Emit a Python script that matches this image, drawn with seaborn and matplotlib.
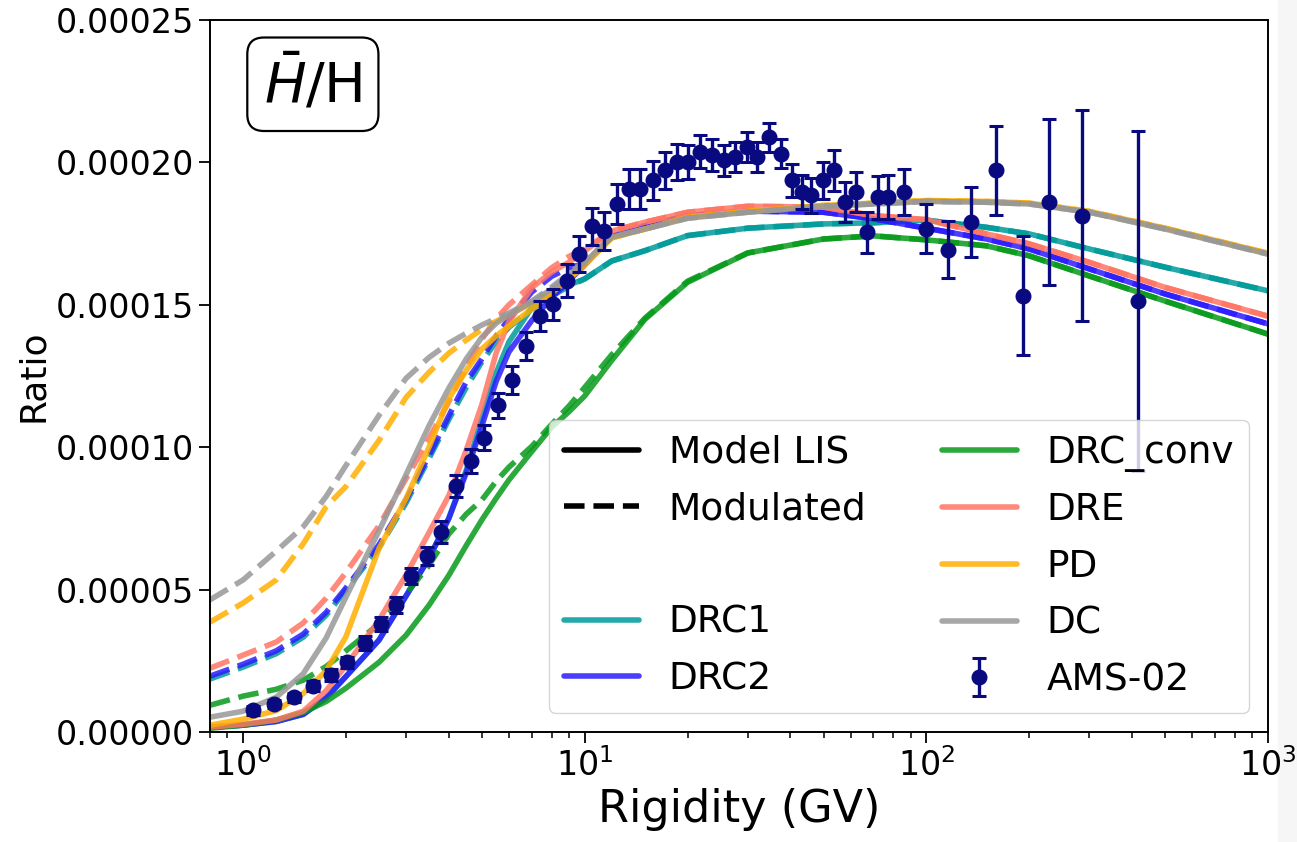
import matplotlib
matplotlib.use("Agg")
import matplotlib.pyplot as plt
import numpy as np
import seaborn as sns
from matplotlib.lines import Line2D
from matplotlib.patches import Rectangle
from matplotlib.ticker import FormatStrFormatter

# all ratio values below are in units of 1e-5
SCALE = 1e-5

# rigidity grid (GV) the model curves are read at
rigidity = [0.8, 1, 1.25, 1.5, 1.75, 2, 2.5, 3, 3.5, 4, 4.5, 5, 5.5, 6, 7, 8, 9, 10,
            12, 15, 20, 30, 50, 70, 100, 150, 200, 300, 500, 1000]

# model curves: LIS (solid) and modulated (dashed)
drc1_lis = [0.17, 0.24, 0.37, 0.62, 1.20, 1.95, 3.23, 4.78, 6.10, 7.50, 9.20, 11.00, 12.60, 13.70, 14.90, 15.40, 15.70, 15.91,
            16.54, 16.90, 17.43, 17.69, 17.84, 17.88, 17.97, 17.72, 17.49, 16.96, 16.32, 15.49]
drc1_mod = [1.86, 2.28, 2.75, 3.33, 4.10, 4.99, 6.47, 8.05, 9.60, 10.97, 12.10, 13.00, 13.70, 14.21, 14.85, 15.31, 15.65, 15.91,
            16.54, 16.90, 17.43, 17.69, 17.84, 17.88, 17.97, 17.72, 17.49, 16.96, 16.32, 15.49]

drc2_lis = [0.17, 0.24, 0.37, 0.62, 1.20, 1.95, 3.23, 4.78, 6.10, 7.50, 9.10, 10.75, 12.30, 13.35, 14.45, 15.25, 15.85, 16.40,
            17.40, 17.78, 18.13, 18.29, 18.25, 18.02, 17.69, 17.31, 16.96, 16.26, 15.38, 14.33]
drc2_mod = [1.96, 2.38, 2.85, 3.44, 4.20, 5.06, 6.58, 8.16, 9.70, 11.10, 12.30, 13.10, 13.90, 14.50, 15.45, 16.00, 16.30, 16.45,
            17.40, 17.78, 18.13, 18.29, 18.25, 18.02, 17.69, 17.31, 16.96, 16.26, 15.38, 14.33]

conv_lis = [0.13, 0.24, 0.42, 0.69, 1.07, 1.54, 2.45, 3.40, 4.45, 5.50, 6.55, 7.45, 8.20, 8.85, 9.85, 10.70, 11.25, 11.80,
            13.05, 14.49, 15.79, 16.82, 17.31, 17.42, 17.28, 17.07, 16.72, 16.01, 15.13, 13.97]
conv_mod = [0.94, 1.26, 1.50, 1.82, 2.30, 2.85, 3.80, 4.85, 5.85, 6.95, 7.65, 8.15, 8.80, 9.30, 10.03, 10.80, 11.45, 12.10,
            13.25, 14.53, 15.83, 16.82, 17.31, 17.42, 17.28, 17.07, 16.72, 16.01, 15.13, 13.97]

dre_lis = [0.17, 0.27, 0.42, 0.73, 1.45, 2.33, 3.93, 5.52, 7.00, 8.30, 9.90, 11.50, 13.30, 14.40, 15.60, 16.15, 16.50, 16.89,
           17.59, 17.90, 18.25, 18.46, 18.43, 18.13, 17.99, 17.49, 17.14, 16.49, 15.61, 14.60]
dre_mod = [2.24, 2.70, 3.16, 3.83, 4.70, 5.60, 7.25, 8.90, 10.30, 11.60, 12.80, 13.80, 14.50, 15.00, 15.70, 16.30, 16.70, 16.96,
           17.59, 17.90, 18.25, 18.46, 18.43, 18.13, 17.99, 17.49, 17.14, 16.49, 15.61, 14.60]

pd_lis = [0.24, 0.45, 0.75, 1.35, 2.15, 3.35, 6.45, 8.20, 10.00, 11.70, 12.70, 13.45, 13.90, 14.25, 14.85, 15.41, 15.90, 16.40,
          17.35, 17.66, 18.07, 18.28, 18.49, 18.57, 18.66, 18.63, 18.57, 18.28, 17.69, 16.81]
pd_mod = [3.86, 4.53, 5.34, 6.61, 7.91, 8.62, 10.24, 11.75, 12.63, 13.30, 13.76, 14.14, 14.42, 14.64, 15.06, 15.48, 15.95, 16.45,
          17.35, 17.66, 18.07, 18.28, 18.49, 18.57, 18.66, 18.63, 18.57, 18.28, 17.69, 16.81]

dc_lis = [0.52, 0.73, 1.22, 2.05, 3.30, 4.74, 7.07, 9.04, 10.75, 12.07, 13.10, 13.86, 14.35, 14.64, 15.10, 15.55, 16.05, 16.50,
          17.38, 17.66, 18.04, 18.25, 18.46, 18.54, 18.63, 18.60, 18.54, 18.25, 17.66, 16.78]
dc_mod = [4.64, 5.34, 6.35, 7.21, 8.27, 9.36, 11.12, 12.42, 13.15, 13.65, 14.00, 14.29, 14.52, 14.71, 15.13, 15.62, 16.10, 16.55,
          17.38, 17.66, 18.04, 18.25, 18.46, 18.54, 18.63, 18.60, 18.54, 18.25, 17.66, 16.78]

# AMS-02 data points
ams_rigidity = [1.07, 1.23, 1.41, 1.60, 1.81, 2.02, 2.28, 2.54, 2.81, 3.10,
                3.46, 3.80, 4.21, 4.65, 5.08, 5.58, 6.11, 6.75, 7.39, 8.09,
                8.85, 9.64, 10.47, 11.41, 12.39, 13.49, 14.51, 15.80, 17.18, 18.57,
                20.10, 21.74, 23.50, 25.60, 27.52, 29.77, 31.85, 34.61, 37.55, 40.35,
                43.15, 46.06, 49.93, 53.79, 57.8, 62.1, 66.9, 72.3, 77.4, 86.1,
                99.8, 115.4, 134.8, 159.6, 191.4, 228.7, 286.2, 415.0]
ams_ratio = [0.76, 0.98, 1.22, 1.61, 2.00, 2.45, 3.12, 3.79, 4.46, 5.48,
             6.19, 7.03, 8.65, 9.53, 10.34, 11.47, 12.35, 13.56, 14.61, 15.02,
             15.84, 16.78, 17.76, 17.60, 18.55, 19.07, 19.07, 19.37, 19.72, 20.01,
             20.01, 20.37, 20.25, 20.07, 20.19, 20.54, 20.19, 20.89, 20.31, 19.37,
             18.96, 18.84, 19.37, 19.72, 18.61, 18.96, 17.55, 18.78, 18.78, 18.96,
             17.67, 16.94, 17.90, 19.72, 15.32, 18.61, 18.13, 15.12]
ams_err = [0.15, 0.15, 0.15, 0.18, 0.20, 0.20, 0.25, 0.25, 0.28, 0.28,
           0.32, 0.38, 0.39, 0.42, 0.43, 0.45, 0.49, 0.50, 0.52, 0.55,
           0.58, 0.62, 0.65, 0.66, 0.70, 0.70, 0.70, 0.68, 0.66, 0.64,
           0.60, 0.58, 0.56, 0.55, 0.54, 0.53, 0.52, 0.51, 0.52, 0.59,
           0.60, 0.62, 0.65, 0.71, 0.70, 0.70, 0.72, 0.76, 0.78, 0.80,
           0.86, 0.99, 1.23, 1.57, 2.08, 2.90, 3.70, 5.97]

model_names = ["DRC1", "DRC2", "DRC_conv", "DRE", "PD", "DC"]
model_colors = ["#009a9a", "#2b1cff", "#079a1a", "#ff7563", "#ffae00", "#989898"]
lis_curves = [drc1_lis, drc2_lis, conv_lis, dre_lis, pd_lis, dc_lis]
mod_curves = [drc1_mod, drc2_mod, conv_mod, dre_mod, pd_mod, dc_mod]

sns.set_style("ticks", {"axes.edgecolor": "black", "xtick.color": "black",
                        "ytick.color": "black", "text.color": "black",
                        "axes.labelcolor": "black"})
plt.rcParams["font.family"] = ["DejaVu Sans"]

LW = 4.0
plt.rcParams["lines.linewidth"] = LW

fig = plt.figure(figsize=(12.97, 8.42), dpi=100)
ax = fig.add_axes([210 / 1297, 110 / 842, 1058 / 1297, 712 / 842])

x = np.array(rigidity)
for name, color, lis, mod in zip(model_names, model_colors, lis_curves, mod_curves):
    sns.lineplot(x=x, y=np.array(lis) * SCALE, color=color, alpha=0.85, ax=ax)
    sns.lineplot(x=x, y=np.array(mod) * SCALE, color=color, alpha=0.85,
                 linestyle="--", ax=ax)

# make sure every model curve gets the thick stroke
for line in ax.get_lines():
    line.set_linewidth(LW)

# data sits above the curves but below the (semi-transparent) legend
ams = ax.errorbar(ams_rigidity, np.array(ams_ratio) * SCALE, yerr=np.array(ams_err) * SCALE,
                  fmt="o", color="#0a0a80", ms=10.5, elinewidth=2.4, capsize=5, capthick=2.2,
                  zorder=4)

ax.set_xscale("log")
ax.set_xlim(0.8, 1000)
ax.set_ylim(0, 0.00025)
ax.set_yticks([0, 0.00005, 0.0001, 0.00015, 0.0002, 0.00025])
ax.yaxis.set_major_formatter(FormatStrFormatter("%.5f"))
ax.tick_params(axis="both", which="major", labelsize=24, length=8, width=1.3)
ax.tick_params(axis="both", which="minor", length=4.5, width=1.1)
for s in ax.spines.values():
    s.set_linewidth(1.4)
    s.set_visible(True)

ax.set_xlabel("Rigidity (GV)", fontsize=32)
ax.set_ylabel("Ratio", fontsize=26)

ax.text(0.051, 0.952, r"$\bar{H}$/H", transform=ax.transAxes, fontsize=40,
        ha="left", va="top",
        bbox=dict(boxstyle="round,pad=0.3", fc="white", ec="black", lw=1.6))

handles = [Line2D([], [], color="black", lw=LW),
           Line2D([], [], color="black", lw=LW, linestyle="--"),
           Line2D([], [], color="none")]
labels = ["Model LIS", "Modulated", ""]
for name, color in zip(model_names, model_colors):
    handles.append(Line2D([], [], color=color, lw=LW, alpha=0.85))
    labels.append(name)
handles.append(ams)
labels.append("AMS-02")

leg = ax.legend(handles, labels, ncol=2, loc="lower right", fontsize=27, labelspacing=0.55,
                frameon=True, framealpha=0.8, edgecolor="0.8", fancybox=True)
leg.set_zorder(6)

fig.patches.append(Rectangle((1278 / 1297, 0), 19 / 1297, 1, transform=fig.transFigure,
                             color="#f6f6f6", zorder=-1))

fig.savefig("out.png", dpi=100)
